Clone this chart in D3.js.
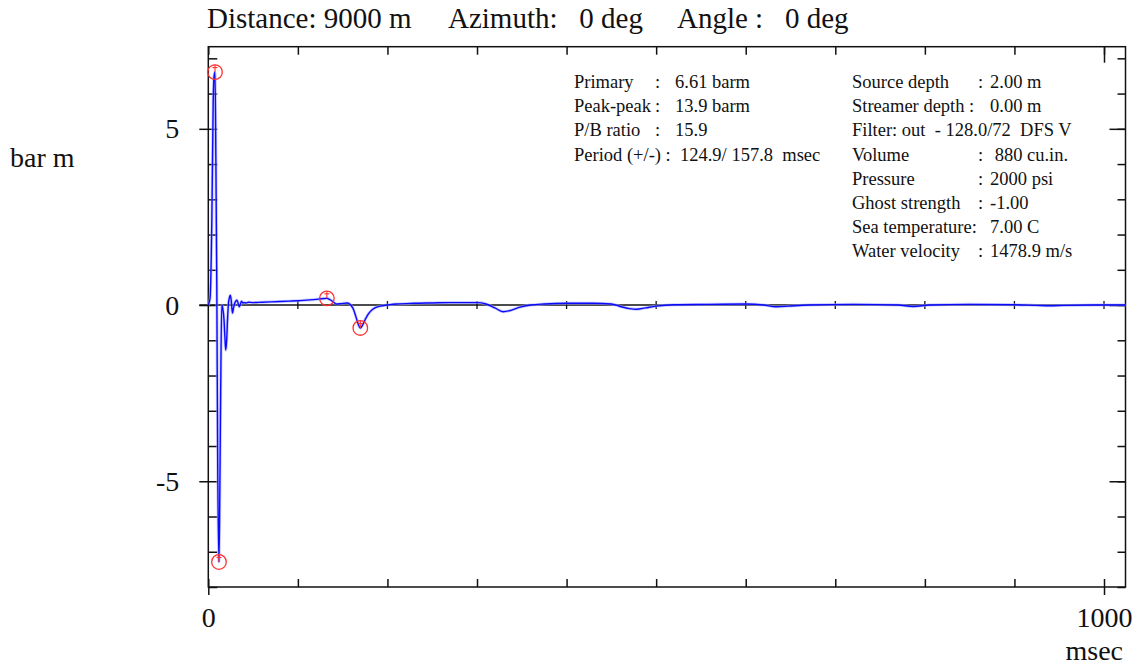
<!DOCTYPE html>
<html>
<head>
<meta charset="utf-8">
<script src="https://cdn.jsdelivr.net/npm/d3@7"></script>
<style>
  body { margin: 0; background: #fff; }
  svg text { font-family: "Liberation Serif", "Times New Roman", serif; fill: #111; }
</style>
</head>
<body>
<div class="canvas"></div>
<script>
// signature samples: time (msec) and pressure (bar m)
const timeMs = [
  0, 2, 4, 5.5, 6.5, 7.5, 8.5, 9.5, 10.5, 11.9,
  12.8, 13.8, 15, 16.2, 17.5, 18.5, 19.5, 20.5, 21.5, 22.5,
  23.5, 24.5, 25.5, 26.2, 27, 28, 29.5, 31, 32, 33.5,
  34.6, 36, 37, 38.5, 40, 42, 45, 50, 60, 70,
  80, 90, 100, 110, 120, 126, 132.4, 136, 140, 143,
  148, 155, 159, 162, 165, 167.5, 169.7, 172, 175, 178,
  181, 186, 192, 200, 210, 230, 250, 270, 290, 300,
  310, 320, 329, 338, 348, 360, 375, 400, 430, 450,
  460, 470, 478, 488, 500, 520, 560, 600, 620, 634,
  648, 670, 720, 770, 787, 805, 850, 900, 925, 940,
  955, 990, 1024
];
const pressure = [
  0, 0.2, 2.5, 5.8, 6.5, 6.61, 4.0, 0.5, -4.5, -7.29,
  -5.5, -2.5, 0, -0.1, -0.4, -0.9, -1.28, -1.0, -0.4, 0.05,
  0.2, 0.28, 0.15, -0.05, -0.23, -0.1, 0.05, 0.12, 0.14, 0.03,
  -0.05, 0.04, 0.11, 0.06, 0.07, 0.06, 0.08, 0.07, 0.08, 0.09,
  0.1, 0.11, 0.12, 0.14, 0.16, 0.18, 0.19, 0.15, 0.08, 0.03,
  0.04, 0.06, 0.0, -0.12, -0.35, -0.55, -0.65, -0.58, -0.42, -0.28,
  -0.18, -0.08, -0.03, 0.0, 0.03, 0.05, 0.06, 0.07, 0.07, 0.07,
  0.03, -0.08, -0.19, -0.15, -0.06, 0.0, 0.03, 0.05, 0.05, 0.03,
  -0.04, -0.1, -0.12, -0.08, -0.03, 0.01, 0.02, 0.03, 0.0, -0.05,
  -0.03, 0.0, 0.02, 0.0, -0.04, 0.0, 0.02, 0.01, -0.01, -0.02,
  -0.01, 0.0, 0.0
];

// picked peaks (primary, trough, bubble peak, bubble trough)
const markerTime = [7.5, 11.9, 132.4, 169.7];
const markerValue = [6.61, -7.29, 0.19, -0.65];

// axes
const xDomain = [0, 1024];
const yDomain = [-8, 7.33];
const xTicks = [0, 100, 200, 300, 400, 500, 600, 700, 800, 900, 1000];
const xLabelTicks = [0, 1000];
const yTicks = [-8, -7, -6, -5, -4, -3, -2, -1, 0, 1, 2, 3, 4, 5, 6, 7];
const yLabelTicks = [-5, 0, 5];

// texts
const titleParts = ['Distance: 9000 m', 'Azimuth:   0 deg', 'Angle :   0 deg'];
const infoLeftLabels = ['Primary', 'Peak-peak', 'P/B ratio', 'Period (+/-) :  124.9/ 157.8  msec'];
const infoLeftValues = ['6.61 barm', '13.9 barm', '15.9', null];
const infoRightLabels = ['Source depth', 'Streamer depth :', 'Filter: out  - 128.0/72  DFS V', 'Volume',
  'Pressure', 'Ghost strength', 'Sea temperature:', 'Water velocity'];
const infoRightValues = ['2.00 m', '0.00 m', null, ' 880 cu.in.', '2000 psi', '-1.00', '7.00 C', '1478.9 m/s'];

const svg = d3.select('.canvas')
  .append('svg')
    .attr('width', 1138)
    .attr('height', 666);

const margin = {top: 46.7, right: 12.5, bottom: 79, left: 208.3};
const graphWidth = 1138 - margin.left - margin.right;
const graphHeight = 666 - margin.top - margin.bottom;

const graph = svg.append('g')
  .attr('transform', `translate(${margin.left},${margin.top})`);

const x = d3.scaleLinear().domain(xDomain).range([0, graphWidth]);
const y = d3.scaleLinear().domain(yDomain).range([graphHeight, 0]);

const noDomain = g => g.select('.domain').remove();

// inner ticks on all four sides
graph.append('g')
  .call(d3.axisLeft(y).tickValues(yTicks).tickSize(-9).tickFormat(''))
  .call(noDomain);
graph.append('g')
  .attr('transform', `translate(${graphWidth},0)`)
  .call(d3.axisRight(y).tickValues(yTicks).tickSize(-8).tickFormat(''))
  .call(noDomain);
graph.append('g')
  .attr('transform', `translate(${graphWidth},0)`)
  .call(d3.axisRight(y).tickValues(yLabelTicks).tickSize(-16).tickFormat(''))
  .call(noDomain);
graph.append('g')
  .attr('transform', `translate(0,${graphHeight})`)
  .call(d3.axisBottom(x).tickValues(xTicks).tickSize(-8).tickFormat(''))
  .call(noDomain);
graph.append('g')
  .call(d3.axisTop(x).tickValues(xTicks).tickSize(-8).tickFormat(''))
  .call(noDomain);
graph.append('g')
  .call(d3.axisTop(x).tickValues([1000]).tickSize(-16).tickFormat(''))
  .call(noDomain);

// labelled ticks
graph.append('g')
  .call(d3.axisLeft(y).tickValues(yLabelTicks).tickSize(9).tickPadding(20).tickFormat(d => String(d)))
  .call(noDomain);
graph.append('g')
  .attr('transform', `translate(0,${graphHeight})`)
  .call(d3.axisBottom(x).tickValues(xLabelTicks).tickSize(8).tickPadding(12).tickFormat(d => String(d)))
  .call(noDomain);

graph.selectAll('.tick line').attr('stroke', '#111').attr('stroke-width', 1.5);
graph.selectAll('.tick text')
  .style('font-family', '"Liberation Serif", "Times New Roman", serif')
  .style('font-size', '28px')
  .attr('fill', '#111');

// zero line with its small ticks
graph.append('line')
  .attr('x1', -9).attr('x2', graphWidth)
  .attr('y1', y(0)).attr('y2', y(0))
  .attr('stroke', '#111').attr('stroke-width', 1.5);
graph.selectAll('line.zero-tick')
  .data(xTicks.slice(1))
  .enter()
  .append('line')
    .attr('class', 'zero-tick')
    .attr('x1', d => x(d)).attr('x2', d => x(d))
    .attr('y1', y(0) - 4).attr('y2', y(0) + 4)
    .attr('stroke', '#111').attr('stroke-width', 1.3);

// frame
graph.append('rect')
  .attr('width', graphWidth)
  .attr('height', graphHeight)
  .attr('fill', 'none')
  .attr('stroke', '#111')
  .attr('stroke-width', 1.5);

// signature line
const points = timeMs.map((t, i) => [t, pressure[i]]);
const line = d3.line()
  .x(d => x(d[0]))
  .y(d => y(d[1]))
  .curve(d3.curveMonotoneX);

graph.append('path')
  .datum(points)
  .attr('d', line)
  .attr('fill', 'none')
  .attr('stroke', '#a8a8ff')
  .attr('stroke-width', 3)
  .attr('opacity', 0.6);
graph.append('path')
  .datum(points)
  .attr('d', line)
  .attr('fill', 'none')
  .attr('stroke', '#0a0aff')
  .attr('stroke-width', 1.4);

// peak markers
const markers = graph.selectAll('g.marker')
  .data(markerTime.map((t, i) => [t, markerValue[i]]))
  .enter()
  .append('g')
    .attr('class', 'marker')
    .attr('transform', d => `translate(${x(d[0])},${y(d[1])})`);
markers.append('circle')
  .attr('r', 7.3)
  .attr('fill', 'none')
  .attr('stroke', '#ff3030')
  .attr('stroke-width', 1.3);
markers.append('line')
  .attr('x1', 0).attr('x2', 0).attr('y1', -7.3).attr('y2', 0)
  .attr('stroke', '#ff3030').attr('stroke-width', 1.1);
markers.append('line')
  .attr('x1', -2.5).attr('x2', 2.5).attr('y1', -4.5).attr('y2', -4.5)
  .attr('stroke', '#ff3030').attr('stroke-width', 1.1);

// title and axis names
const titleX = [207, 448, 677];
svg.selectAll('text.title')
  .data(titleParts)
  .enter()
  .append('text')
    .attr('class', 'title')
    .attr('x', (d, i) => titleX[i])
    .attr('y', 28)
    .style('font-size', '29px')
    .style('white-space', 'pre')
    .text(d => d);

svg.append('text')
  .attr('x', 10).attr('y', 167)
  .style('font-size', '28px')
  .text('bar m');

svg.append('text')
  .attr('x', 1123).attr('y', 660)
  .attr('text-anchor', 'end')
  .style('font-size', '28px')
  .text('msec');

// info block: a colon column unless the label carries its own
function infoColumn(labels, values, x0, xColon, xValue, yStart) {
  const rows = svg.append('g').selectAll('g')
    .data(labels.map((l, i) => ({label: l, value: values[i]})))
    .enter()
    .append('g')
      .attr('transform', (d, i) => `translate(0,${yStart + i * 24.2})`)
      .style('font-size', '18.5px');
  rows.append('text').attr('x', x0).style('white-space', 'pre').text(d => d.label);
  rows.filter(d => d.value !== null && !d.label.endsWith(':'))
    .append('text').attr('x', xColon).text(':');
  rows.filter(d => d.value !== null)
    .append('text').attr('x', xValue).style('white-space', 'pre')
    .text(d => d.value);
}
infoColumn(infoLeftLabels, infoLeftValues, 574, 655, 675, 88);
infoColumn(infoRightLabels, infoRightValues, 852, 978, 990, 88);
</script>
</body>
</html>
